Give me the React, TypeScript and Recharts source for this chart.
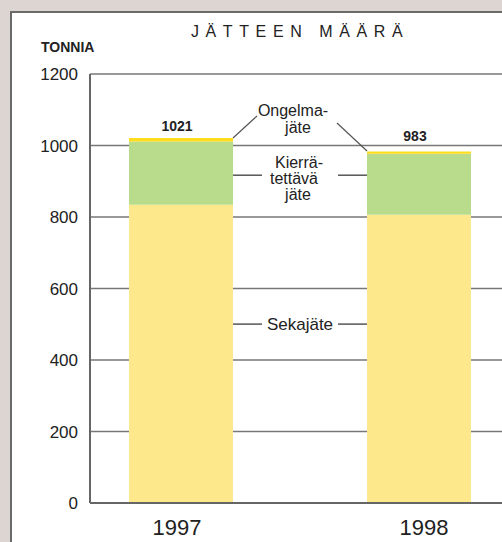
import React from 'react';
import { BarChart, Bar, XAxis, YAxis, CartesianGrid, LabelList } from 'recharts';

const years = ['1997', '1998'];
const sekajate = [834, 806];
const kierratettava = [177, 171];
const ongelmajate = [10, 6];
const totals = [1021, 983];
const yTicks = [0, 200, 400, 600, 800, 1000, 1200];

const data = years.map((year, i) => ({
  year,
  seka: sekajate[i],
  kierr: kierratettava[i],
  ongelma: ongelmajate[i],
  total: totals[i],
}));

const font = '"Liberation Sans", Arial, sans-serif';
const ink = '#222';
const lead = '#555';

// label props differ a bit between versions, so read the box from either place
const box = (p: any) => {
  const vb = p.viewBox ?? {};
  return {
    x: Number(p.x ?? vb.x),
    y: Number(p.y ?? vb.y),
    w: Number(p.width ?? vb.width),
    h: Number(p.height ?? vb.height),
  };
};

const TotalLabel = (p: any) => {
  const { x, y, w } = box(p);
  const lift = p.index === 0 ? 7 : 11;
  return (
    <text x={x + w / 2 - 4} y={y - lift} textAnchor="middle" fontSize={14} fontWeight="bold" fill={ink} fontFamily={font}>
      {p.value}
    </text>
  );
};

const OngelmaNote = (p: any) => {
  if (p.index !== 0) return null;
  const { x, y, w } = box(p);
  const r = x + w;
  return (
    <g fontFamily={font} fontSize={16} fill={ink}>
      <line x1={r} y1={y} x2={r + 24} y2={y - 22} stroke={lead} strokeWidth={1.2} />
      <line x1={r + 104} y1={y - 15} x2={r + 134} y2={y + 13} stroke={lead} strokeWidth={1.2} />
      <text y={y - 22} textAnchor="middle">
        <tspan x={r + 60}>Ongelma-</tspan>
        <tspan x={r + 65} dy={17}>jäte</tspan>
      </text>
    </g>
  );
};

const KierrNote = (p: any) => {
  if (p.index !== 0) return null;
  const { x, y, w, h } = box(p);
  const r = x + w;
  const cy = y + h / 2 + 2;
  return (
    <g fontFamily={font} fontSize={16} fill={ink}>
      <line x1={r} y1={cy} x2={r + 29} y2={cy} stroke={lead} strokeWidth={1.5} />
      <line x1={r + 105} y1={cy} x2={r + 134} y2={cy} stroke={lead} strokeWidth={1.5} />
      <text y={cy - 7} textAnchor="middle">
        <tspan x={r + 66}>Kierrä-</tspan>
        <tspan x={r + 61} dy={16}>tettävä</tspan>
        <tspan x={r + 65} dy={16}>jäte</tspan>
      </text>
    </g>
  );
};

const SekaNote = (p: any) => {
  if (p.index !== 0) return null;
  const { x, y, w, h } = box(p);
  const r = x + w;
  const cy = y + h * 0.4;
  return (
    <g fontFamily={font} fontSize={17} fill={ink}>
      <line x1={r} y1={cy} x2={r + 29} y2={cy} stroke={lead} strokeWidth={1.5} />
      <line x1={r + 105} y1={cy} x2={r + 134} y2={cy} stroke={lead} strokeWidth={1.5} />
      <text x={r + 67} y={cy} textAnchor="middle" dominantBaseline="central">Sekajäte</text>
    </g>
  );
};

// year labels sit a little off the bar centres in the original
const YearTick = (p: any) => {
  const shift = p.index === 0 ? -4 : 5;
  return (
    <text x={p.x + shift} y={p.y + 32} textAnchor="middle" fontSize={22} fill={ink} fontFamily={font}>
      {p.payload.value}
    </text>
  );
};

export default function App() {
  return (
    <div style={{ position: 'absolute', left: 0, top: 0, width: 502, height: 542, overflow: 'hidden', background: '#dcd5d1' }}>
      <div style={{ position: 'absolute', left: 10, top: 11, width: 540, height: 580, background: '#fff', border: '2px solid #6a6a6a' }} />
      <div style={{ position: 'absolute', left: 0, top: 0 }}>
        <BarChart width={560} height={542} data={data} margin={{ top: 74, right: 22, bottom: 0, left: 0 }}>
          <CartesianGrid vertical={false} stroke="#777" strokeWidth={1.5} />
          <XAxis
            dataKey="year"
            padding={{ left: -28, right: 0 }}
            height={39}
            tickLine={false}
            tickSize={0}
            tickMargin={0}
            axisLine={{ stroke: '#666', strokeWidth: 2 }}
            tick={YearTick}
          />
          <YAxis
            width={90}
            domain={[0, 1200]}
            ticks={yTicks}
            tickLine={false}
            tickSize={0}
            tickMargin={12}
            axisLine={{ stroke: '#666', strokeWidth: 2 }}
            tick={{ fontSize: 17, fill: ink, fontFamily: font }}
          />
          <Bar dataKey="seka" stackId="a" fill="#fde98b" barSize={104} isAnimationActive={false}>
            <LabelList dataKey="seka" content={SekaNote} />
          </Bar>
          <Bar dataKey="kierr" stackId="a" fill="#b9dc8c" barSize={104} isAnimationActive={false}>
            <LabelList dataKey="kierr" content={KierrNote} />
          </Bar>
          <Bar dataKey="ongelma" stackId="a" fill="#ffdd1c" barSize={104} isAnimationActive={false}>
            <LabelList dataKey="total" content={TotalLabel} />
            <LabelList dataKey="ongelma" content={OngelmaNote} />
          </Bar>
        </BarChart>
      </div>
      <svg width={502} height={542} style={{ position: 'absolute', left: 0, top: 0, pointerEvents: 'none' }}>
        <text x={191} y={37} fontSize={16} letterSpacing={6.6} fill={ink} fontFamily={font}>JÄTTEEN MÄÄRÄ</text>
        <text x={41} y={52} fontSize={14} fontWeight="bold" fill={ink} fontFamily={font}>TONNIA</text>
      </svg>
    </div>
  );
}
